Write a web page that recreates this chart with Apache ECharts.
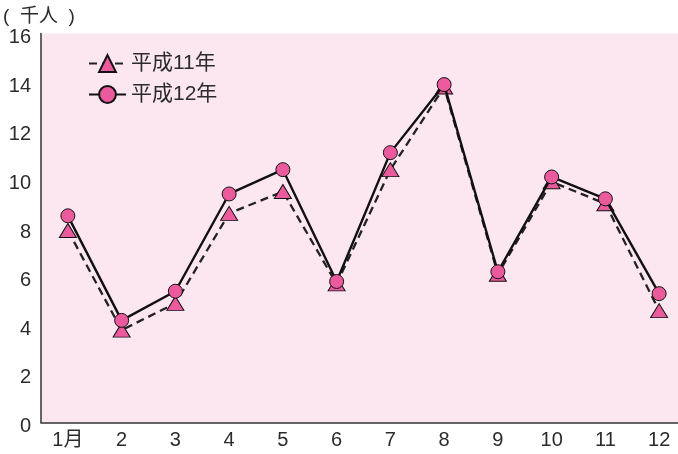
<!DOCTYPE html>
<html>
<head>
<meta charset="utf-8">
<script src="https://cdn.jsdelivr.net/npm/echarts@6/dist/echarts.min.js"></script>
<style>
  html, body { margin: 0; padding: 0; background: #ffffff; }
  #chart { width: 678px; height: 454px; }
</style>
</head>
<body>
<div id="chart"></div>
<script>
// Monthly figures (thousands of people)
const months = ['1月', '2', '3', '4', '5', '6', '7', '8', '9', '10', '11', '12'];
const heisei11 = [7.9, 3.8, 4.9, 8.6, 9.5, 5.7, 10.4, 13.8, 6.1, 9.9, 9.0, 4.6];
const heisei12 = [8.5, 4.2, 5.4, 9.4, 10.4, 5.8, 11.1, 13.9, 6.2, 10.1, 9.2, 5.3];
const yTicks = { min: 0, max: 16, interval: 2 };

const FONT = '"Liberation Sans", Arial, "Noto Sans CJK JP", sans-serif';
const PINK = '#EC5A9E';
const INK = '#222222';
const TEXT = '#2b2b2b';

const chart = echarts.init(document.getElementById('chart'), null, { renderer: 'canvas' });

chart.setOption({
  animation: false,
  backgroundColor: '#ffffff',
  textStyle: { fontFamily: FONT },
  title: {
    text: '(  千人  )',
    left: -2,
    top: 2,
    textStyle: { fontFamily: FONT, fontSize: 19, fontWeight: 'normal', color: TEXT }
  },
  legend: {
    orient: 'vertical',
    left: 83,
    top: 48,
    itemWidth: 37,
    itemHeight: 21,
    itemGap: 10,
    textStyle: { fontFamily: FONT, fontSize: 21, color: TEXT },
    data: ['平成11年', '平成12年']
  },
  grid: {
    left: 41,
    top: 33.5,
    width: 645,
    height: 389,
    outerBoundsMode: 'none',
    containLabel: false,
    show: true,
    backgroundColor: '#FCE6F0',
    borderWidth: 0
  },
  xAxis: {
    type: 'category',
    data: months,
    boundaryGap: true,
    axisLine: { lineStyle: { color: '#333333', width: 1.5 } },
    axisTick: { inside: true, alignWithLabel: true, length: 8, lineStyle: { color: '#333333', width: 1.2 } },
    axisLabel: { fontFamily: FONT, fontSize: 20, color: TEXT, margin: 8 },
    splitLine: { show: false }
  },
  yAxis: {
    type: 'value',
    min: yTicks.min,
    max: yTicks.max,
    interval: yTicks.interval,
    axisLine: { show: true, lineStyle: { color: '#333333', width: 1.5 } },
    axisTick: { show: false },
    axisLabel: {
      fontFamily: FONT, fontSize: 20, color: TEXT, margin: 10,
      verticalAlign: 'top', lineHeight: 8
    },
    splitLine: { show: false }
  },
  series: [
    {
      name: '平成11年',
      type: 'line',
      data: heisei11,
      symbol: 'triangle',
      symbolSize: [17, 14],
      lineStyle: { color: INK, width: 2.3, type: [8, 5] },
      itemStyle: { color: PINK, borderColor: '#111111', borderWidth: 1 },
      z: 2
    },
    {
      name: '平成12年',
      type: 'line',
      data: heisei12,
      symbol: 'circle',
      symbolSize: 14,
      lineStyle: { color: '#111111', width: 2.4, type: 'solid' },
      itemStyle: { color: PINK, borderColor: '#111111', borderWidth: 1 },
      z: 3
    }
  ]
});
</script>
</body>
</html>
